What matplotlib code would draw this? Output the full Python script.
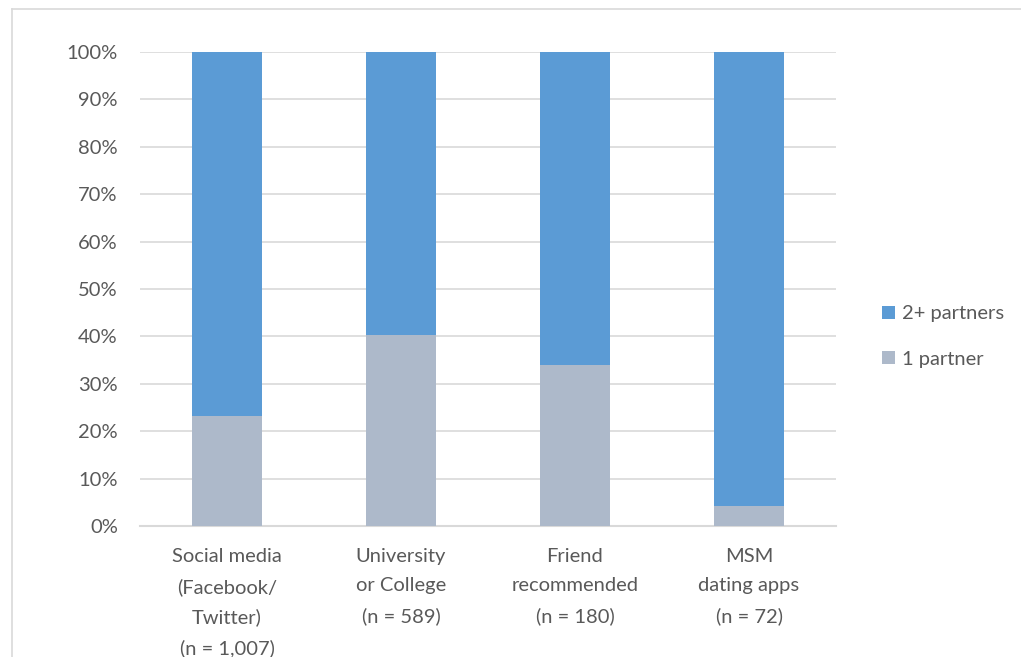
import matplotlib.pyplot as plt
from matplotlib.lines import Line2D

# data
categories = ['Social media\n(Facebook/\nTwitter)\n(n = 1,007)',
              'University\nor College\n(n = 589)',
              'Friend\nrecommended\n(n = 180)',
              'MSM\ndating apps\n(n = 72)']
one_partner = [0.233, 0.403, 0.340, 0.042]
two_plus = [1 - v for v in one_partner]
y_ticks = [i / 10 for i in range(11)]

blue = '#5B9BD5'
grey = '#ADB9CA'
text_col = '#595959'

plt.rcParams['font.family'] = ['Lato', 'DejaVu Sans']

fig = plt.figure(figsize=(10.21, 6.57), dpi=100)
ax = fig.add_axes([140 / 1021, 1 - 526 / 657, 696 / 1021, 474 / 657])

x = range(len(categories))
ax.bar(x, one_partner, width=0.4, color=grey, label='1 partner', zorder=3)
ax.bar(x, two_plus, width=0.4, bottom=one_partner, color=blue, label='2+ partners', zorder=3)

ax.set_xlim(-0.5, 3.5)
ax.set_ylim(0, 1)
ax.set_yticks(y_ticks)
ax.set_yticklabels([f'{int(round(t * 100))}%' for t in y_ticks])
ax.set_xticks(list(x))
ax.set_xticklabels(categories, linespacing=1.85)
ax.grid(axis='y', color='#D9D9D9', linewidth=1.2, zorder=0)
for s in ['top', 'right', 'left']:
    ax.spines[s].set_visible(False)
ax.spines['bottom'].set_color('#D9D9D9')
ax.spines['bottom'].set_linewidth(1.5)
ax.tick_params(axis='y', length=0, pad=16, labelsize=14.5, labelcolor=text_col)
ax.tick_params(axis='x', length=0, pad=16, labelsize=14.5, labelcolor=text_col)

# legend: reversed order like the original
h, l = ax.get_legend_handles_labels()
fig.legend(h[::-1], l[::-1], loc='center left', bbox_to_anchor=(864 / 1021, 1 - 336.5 / 657),
           frameon=False, fontsize=14.5, labelcolor=text_col, handlelength=0.65,
           handleheight=0.65, handletextpad=0.35, labelspacing=1.4)

# outer chart border (only top and left visible)
fig.add_artist(Line2D([12 / 1021, 1], [1 - 9 / 657, 1 - 9 / 657], color='#D9D9D9', linewidth=1.2))
fig.add_artist(Line2D([12 / 1021, 12 / 1021], [0, 1 - 9 / 657], color='#D9D9D9', linewidth=1.2))

fig.savefig('out.png', dpi=100)
